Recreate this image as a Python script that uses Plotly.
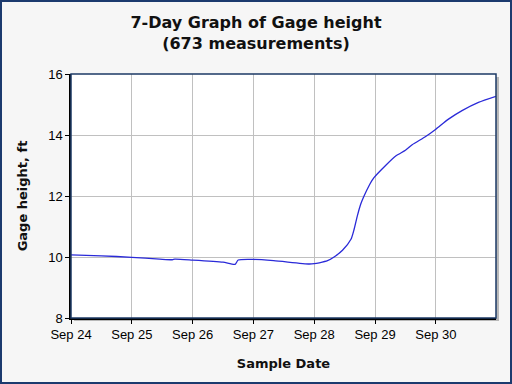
import plotly.graph_objects as go

times = [
    "2024-09-24 00:00", "2024-09-24 12:00", "2024-09-25 00:00", "2024-09-25 11:00",
    "2024-09-25 16:00", "2024-09-25 17:00", "2024-09-26 00:00", "2024-09-26 12:00",
    "2024-09-26 16:45", "2024-09-26 18:00", "2024-09-27 00:00", "2024-09-27 08:00",
    "2024-09-27 22:00", "2024-09-28 00:00", "2024-09-28 02:00", "2024-09-28 05:15",
    "2024-09-28 07:50", "2024-09-28 11:10", "2024-09-28 14:30", "2024-09-28 15:45",
    "2024-09-28 17:00", "2024-09-28 18:20", "2024-09-28 19:40", "2024-09-28 21:35",
    "2024-09-28 23:35", "2024-09-29 04:10", "2024-09-29 08:10", "2024-09-29 12:00",
    "2024-09-29 14:40", "2024-09-29 20:00", "2024-09-30 00:00", "2024-09-30 05:00",
    "2024-09-30 10:20", "2024-09-30 16:50", "2024-09-30 23:45",
]
gage_ft = [
    10.07, 10.04, 9.99, 9.93,
    9.91, 9.93, 9.90, 9.83,
    9.76, 9.90, 9.92, 9.88,
    9.77, 9.78, 9.81, 9.88,
    10.00, 10.22, 10.58, 10.91,
    11.34, 11.73, 12.00, 12.33,
    12.60, 13.00, 13.31, 13.50,
    13.68, 13.95, 14.19, 14.52,
    14.80, 15.07, 15.27,
]
tick_vals = ["2024-09-24", "2024-09-25", "2024-09-26", "2024-09-27",
             "2024-09-28", "2024-09-29", "2024-09-30"]
tick_text = ["Sep 24", "Sep 25", "Sep 26", "Sep 27", "Sep 28", "Sep 29", "Sep 30"]

L, R, T, B = 71, 16, 74, 66
W, H = 512, 384
pw, ph = W - L - R, H - T - B

fig = go.Figure()
fig.add_trace(go.Scatter(x=times, y=gage_ft, mode="lines",
                         line=dict(color="#2a2ad8", width=1.3, shape="spline", smoothing=0.6),
                         hoverinfo="skip"))

shapes = [
    # shadow
    dict(type="rect", xref="paper", yref="paper", x0=3/pw, x1=1+3/pw, y0=-3/ph, y1=1-3/ph,
         fillcolor="#b8b8b8", line=dict(width=0), layer="below"),
    dict(type="rect", xref="paper", yref="paper", x0=0, x1=1, y0=0, y1=1,
         fillcolor="white", line=dict(width=0), layer="below"),
    # plot border
    dict(type="rect", xref="paper", yref="paper", x0=0, x1=1, y0=0, y1=1,
         line=dict(color="#1c3a66", width=1.5), layer="above"),
    # outer border
    dict(type="rect", xref="paper", yref="paper",
         x0=-(L - 1) / pw, x1=1 + (R - 1) / pw, y0=-(B - 1) / ph, y1=1 + (T - 1) / ph,
         line=dict(color="#1c3a6e", width=2), layer="above"),
]

fig.update_layout(
    width=W, height=H,
    margin=dict(l=L, r=R, t=T, b=B),
    paper_bgcolor="#f6f6f6", plot_bgcolor="rgba(0,0,0,0)",
    showlegend=False,
    shapes=shapes,
    title=dict(text="7-Day Graph of Gage height<br>(673 measurements)",
               x=0.5, xanchor="center", y=1 - 28 / H, yanchor="middle",
               font=dict(family="DejaVu Sans", size=16, color="#111111", weight="bold")),
    xaxis=dict(range=["2024-09-24 00:00", "2024-09-30 23:45"], tickvals=tick_vals, ticktext=tick_text,
               showgrid=True, gridcolor="#c0c0c0", gridwidth=1,
               showline=True, linecolor="black", linewidth=1.5,
               ticks="outside", ticklen=4, tickcolor="black",
               tickfont=dict(family="Liberation Sans", size=13, color="black"),
               title=dict(text="Sample Date", standoff=18,
                          font=dict(family="DejaVu Sans", size=13, color="#111111", weight="bold")),
               zeroline=False),
    yaxis=dict(range=[8, 16], tickvals=[8, 10, 12, 14, 16],
               showgrid=True, gridcolor="#c0c0c0", gridwidth=1,
               showline=True, linecolor="black", linewidth=1.5,
               ticks="outside", ticklen=4, tickcolor="black",
               tickfont=dict(family="Liberation Sans", size=13, color="black"),
               title=dict(text="Gage height, ft", standoff=18,
                          font=dict(family="DejaVu Sans", size=13, color="#111111", weight="bold")),
               zeroline=False),
)

fig.write_html("out.html", config={"displayModeBar": False},
               post_script="document.body.style.margin='0';")
